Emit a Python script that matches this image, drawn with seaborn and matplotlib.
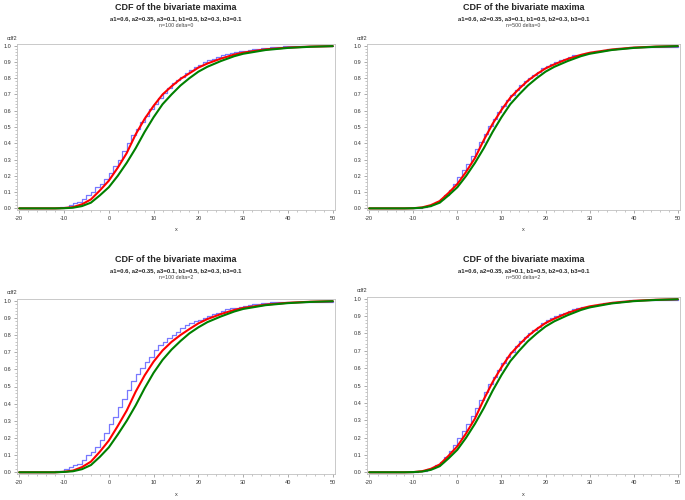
import numpy as np
import pandas as pd
import matplotlib
matplotlib.use('Agg')
import matplotlib.pyplot as plt
from matplotlib.ticker import MultipleLocator, FormatStrFormatter
import seaborn as sns

# ---- dane ----
title = "CDF of the bivariate maxima"
params = "a1=0.6, a2=0.35, a3=0.1, b1=0.5, b2=0.3, b3=0.1"
panel_labels = ["n=100 delta=0", "n=500 delta=0", "n=100 delta=2", "n=500 delta=2"]

curve_x = [-20, -12, -10, -8, -6, -4, -2, 0, 2, 4, 6, 8, 10, 12, 14, 16, 18, 20, 22, 25, 28, 30, 35, 40, 45, 50]

red1 = [0, 0, 0.002, 0.008, 0.025, 0.055, 0.11, 0.17, 0.25, 0.34, 0.455, 0.55, 0.63, 0.70, 0.75, 0.795,
        0.83, 0.865, 0.89, 0.92, 0.945, 0.957, 0.977, 0.988, 0.994, 0.997]
green1 = [0, 0, 0.001, 0.004, 0.014, 0.035, 0.08, 0.13, 0.2, 0.28, 0.37, 0.47, 0.56, 0.64, 0.70, 0.755,
          0.80, 0.84, 0.87, 0.905, 0.935, 0.95, 0.973, 0.986, 0.993, 0.997]
red2 = [0, 0, 0.001, 0.006, 0.02, 0.045, 0.095, 0.15, 0.225, 0.31, 0.42, 0.52, 0.605, 0.68, 0.735, 0.785,
        0.825, 0.86, 0.885, 0.918, 0.943, 0.956, 0.976, 0.988, 0.994, 0.997]
green2 = [0, 0, 0.001, 0.004, 0.014, 0.035, 0.08, 0.13, 0.2, 0.28, 0.37, 0.47, 0.56, 0.64, 0.70, 0.755,
          0.80, 0.84, 0.87, 0.905, 0.935, 0.95, 0.973, 0.986, 0.993, 0.997]
red3 = [0, 0, 0.003, 0.01, 0.03, 0.062, 0.12, 0.185, 0.27, 0.36, 0.47, 0.565, 0.645, 0.71, 0.76, 0.80,
        0.835, 0.868, 0.893, 0.922, 0.946, 0.958, 0.977, 0.988, 0.994, 0.997]
green3 = [0, 0, 0.002, 0.006, 0.018, 0.042, 0.09, 0.145, 0.22, 0.30, 0.39, 0.49, 0.58, 0.655, 0.715, 0.765,
          0.81, 0.845, 0.875, 0.908, 0.937, 0.952, 0.974, 0.986, 0.993, 0.997]
red4 = [0, 0, 0.001, 0.006, 0.02, 0.045, 0.095, 0.15, 0.225, 0.31, 0.42, 0.52, 0.605, 0.68, 0.735, 0.785,
        0.825, 0.86, 0.885, 0.918, 0.943, 0.956, 0.976, 0.988, 0.994, 0.997]
green4 = [0, 0, 0.001, 0.004, 0.014, 0.035, 0.08, 0.13, 0.2, 0.28, 0.37, 0.47, 0.56, 0.64, 0.70, 0.755,
          0.80, 0.84, 0.87, 0.905, 0.935, 0.95, 0.973, 0.986, 0.993, 0.997]

# dystrybuanta empiryczna liczona w punktach calkowitych -12..40 (schodki)
step_x = [-20] + list(range(-12, 41)) + [50]

blue1 = [0, 0, 0.01, 0.01, 0.02, 0.03, 0.04, 0.06, 0.08, 0.10, 0.13, 0.15, 0.18, 0.22, 0.26, 0.30, 0.35,
         0.40, 0.45, 0.49, 0.53, 0.57, 0.61, 0.64, 0.68, 0.71, 0.74, 0.77, 0.79, 0.81, 0.83, 0.85, 0.87,
         0.88, 0.90, 0.91, 0.92, 0.93, 0.94, 0.95, 0.955, 0.96, 0.965, 0.97, 0.975, 0.98, 0.98, 0.985,
         0.985, 0.99, 0.99, 0.99, 0.995, 0.995, 1.0]
blue2 = [0, 0, 0, 0.002, 0.005, 0.01, 0.016, 0.025, 0.04, 0.06, 0.085, 0.115, 0.15, 0.19, 0.235, 0.275, 0.32,
         0.365, 0.41, 0.46, 0.505, 0.55, 0.59, 0.63, 0.665, 0.695, 0.725, 0.755, 0.78, 0.80, 0.82, 0.84, 0.86,
         0.875, 0.89, 0.90, 0.91, 0.92, 0.93, 0.94, 0.945, 0.95, 0.955, 0.96, 0.965, 0.97, 0.975, 0.978,
         0.98, 0.983, 0.986, 0.988, 0.99, 0.992, 1.0]
blue3 = [0, 0.01, 0.01, 0.02, 0.03, 0.04, 0.05, 0.07, 0.10, 0.12, 0.15, 0.19, 0.23, 0.28, 0.32, 0.38, 0.43,
         0.48, 0.53, 0.57, 0.61, 0.64, 0.67, 0.71, 0.74, 0.76, 0.78, 0.80, 0.82, 0.84, 0.86, 0.87, 0.88,
         0.89, 0.90, 0.91, 0.92, 0.93, 0.94, 0.95, 0.955, 0.96, 0.965, 0.97, 0.975, 0.98, 0.98, 0.985,
         0.985, 0.99, 0.99, 0.99, 0.995, 0.995, 1.0]
blue4 = [0, 0, 0, 0.002, 0.005, 0.01, 0.016, 0.026, 0.04, 0.062, 0.088, 0.12, 0.155, 0.195, 0.24, 0.28, 0.325,
         0.37, 0.415, 0.465, 0.51, 0.55, 0.59, 0.63, 0.665, 0.695, 0.725, 0.755, 0.78, 0.80, 0.82, 0.84, 0.86,
         0.875, 0.89, 0.90, 0.91, 0.92, 0.93, 0.94, 0.945, 0.95, 0.955, 0.96, 0.965, 0.97, 0.975, 0.978,
         0.98, 0.983, 0.986, 0.988, 0.99, 0.992, 1.0]

reds = [red1, red2, red3, red4]
greens = [green1, green2, green3, green4]
blues = [blue1, blue2, blue3, blue4]

sns.set_theme(style="white")
plt.rcParams['font.family'] = ['Liberation Sans', 'DejaVu Sans']
plt.rcParams['axes.unicode_minus'] = False

W, H = 685, 500
fig = plt.figure(figsize=(W / 100, H / 100), dpi=100)

# polozenie osi w pikselach: lewo, prawo, gora, dol
boxes = [(17, 335, 44, 210), (367, 680, 44, 210), (17, 335, 299, 474), (367, 680, 297, 474)]
title_y = [8, 8, 260, 260]

for i, (l, r, t, b) in enumerate(boxes):
    ax = fig.add_axes([l / W, 1 - b / H, (r - l) / W, (b - t) / H])
    blue_df = pd.DataFrame({'x': step_x, 'cdf': blues[i]})
    curve_df = pd.DataFrame({'x': curve_x, 'red': reds[i], 'green': greens[i]})
    sns.lineplot(data=blue_df, x='x', y='cdf', ax=ax, color='#7878ff', lw=0.9,
                 drawstyle='steps-post', estimator=None, zorder=2)
    sns.lineplot(data=curve_df, x='x', y='red', ax=ax, color='#ff0000', lw=1.5, estimator=None, zorder=3)
    sns.lineplot(data=curve_df, x='x', y='green', ax=ax, color='#008000', lw=1.5, estimator=None, zorder=4)

    ax.set_xlim(-20.5, 50.5)
    ax.set_ylim(-0.01, 1.01)
    ax.xaxis.set_major_locator(MultipleLocator(10))
    ax.xaxis.set_minor_locator(MultipleLocator(2))
    ax.yaxis.set_major_locator(MultipleLocator(0.1))
    ax.yaxis.set_minor_locator(MultipleLocator(0.02))
    ax.yaxis.set_major_formatter(FormatStrFormatter('%.1f'))
    ax.tick_params(which='major', length=2.5, width=0.5, color='#888888', labelsize=4, pad=1.5,
                   labelcolor='#333333', bottom=True, left=True)
    ax.tick_params(which='minor', length=1.3, width=0.4, color='#999999', bottom=True, left=True)
    for s in ax.spines.values():
        s.set_color('#c0c0c0')
        s.set_linewidth(0.6)
    ax.set_xlabel('x', fontsize=4, color='#333333', labelpad=5)
    ax.set_ylabel('')

    cx = (l + r) / 2 / W
    ty = title_y[i]
    fig.text(cx, 1 - ty / H, title, ha='center', va='center', fontsize=6.5, fontweight='bold')
    fig.text(cx, 1 - (ty + 11) / H, params, ha='center', va='center', fontsize=4.3, fontweight='bold')
    fig.text(cx, 1 - (ty + 17.5) / H, panel_labels[i], ha='center', va='center', fontsize=3.8, color='#444444')
    fig.text((l - 5) / W, 1 - (t - 6) / H, 'cdf2', ha='center', va='center', fontsize=4, color='#333333')

fig.savefig('out.png', dpi=100, facecolor='white')
plt.close(fig)
